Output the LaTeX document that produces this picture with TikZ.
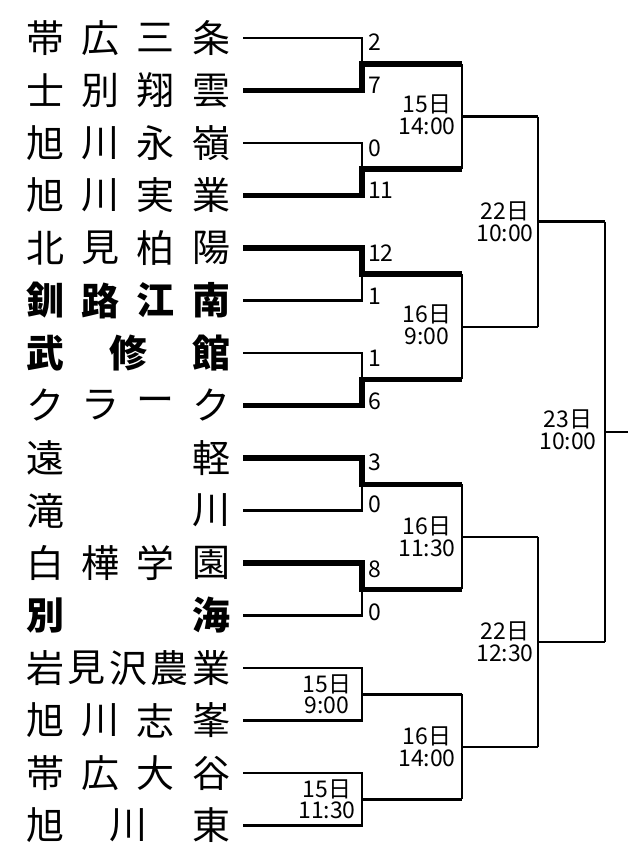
\documentclass[tikz,border=0pt]{standalone}
\usepackage{fontspec}
\setmainfont{Noto Sans CJK JP}
\usetikzlibrary{calc}

\tikzset{
plainline/.style={line width=2.5pt},
winline/.style={line width=5.5pt},
teamchar/.style={inner sep=0pt, font=\fontsize{38}{38}\selectfont},
score/.style={inner sep=0pt, anchor=west, font=\fontsize{23}{23}\selectfont},
gamedate/.style={inner sep=0pt, align=center, font=\fontsize{23}{21.5}\selectfont}
}

\newcommand{\teamname}[4]{%
\foreach \c [count=\k] in {#3}{
\node[teamchar] (n#1-\k) at ({45+(\k-1)*166/(#2-1)},{38+52.5*(#1-1)}) {#4\c};
}
}
\newcommand{\scorecoord}[3]{%

\node[score] (p#1) at ($(e#1)+(6,#3)$) {#2};

}

\begin{document}
\begin{tikzpicture}[x=1pt,y=-1pt]

\useasboundingbox (0,0) rectangle (639,858);

\foreach \i in {1,...,16}{
\coordinate (s\i) at (243,{38+52.5*(\i-1)});
\coordinate (e\i) at (362,{38+52.5*(\i-1)});
}
\foreach \k in {1,...,8}{
\coordinate (a\k) at (362,{38+52.5*(2*\k-1.5)});
\coordinate (b\k) at (462,{38+52.5*(2*\k-1.5)});
}
\foreach \k in {1,...,4}{
\coordinate (c\k) at (462,{38+52.5*(4*\k-2.5)});
\coordinate (d\k) at (538,{38+52.5*(4*\k-2.5)});
}
\foreach \k in {1,2}{
\coordinate (f\k) at (538,{38+52.5*(8*\k-4.5)});
\coordinate (g\k) at (605,{38+52.5*(8*\k-4.5)});
}
\coordinate (h) at (605,{38+52.5*7.5});
\coordinate (z) at (628,{38+52.5*7.5});


\teamname{1}{4}{帯,広,三,条}{}
\teamname{2}{4}{士,別,翔,雲}{}
\teamname{3}{4}{旭,川,永,嶺}{}
\teamname{4}{4}{旭,川,実,業}{}
\teamname{5}{4}{北,見,柏,陽}{}
\teamname{6}{4}{釧,路,江,南}{\bfseries}
\teamname{7}{3}{武,修,館}{\bfseries}
\teamname{8}{4}{ク,ラ,ー,ク}{}
\teamname{9}{2}{遠,軽}{}
\teamname{10}{2}{滝,川}{}
\teamname{11}{4}{白,樺,学,園}{}
\teamname{12}{2}{別,海}{\bfseries}
\teamname{13}{5}{岩,見,沢,農,業}{}
\teamname{14}{4}{旭,川,志,峯}{}
\teamname{15}{4}{帯,広,大,谷}{}
\teamname{16}{3}{旭,川,東}{}


\draw[plainline] (s1) -- (e1) -- (a1);
\draw[winline] (s2) -- (e2) -- (a1) -- (b1);
\draw[plainline] (s3) -- (e3) -- (a2);
\draw[winline] (s4) -- (e4) -- (a2) -- (b2);
\draw[winline] (s5) -- (e5) -- (a3) -- (b3);
\draw[plainline] (s6) -- (e6) -- (a3);
\draw[plainline] (s7) -- (e7) -- (a4);
\draw[winline] (s8) -- (e8) -- (a4) -- (b4);
\draw[winline] (s9) -- (e9) -- (a5) -- (b5);
\draw[plainline] (s10) -- (e10) -- (a5);
\draw[winline] (s11) -- (e11) -- (a6) -- (b6);
\draw[plainline] (s12) -- (e12) -- (a6);
\draw[plainline] (s13) -- (e13) -- (e14) -- (s14);
\draw[plainline] (a7) -- (b7);
\draw[plainline] (s15) -- (e15) -- (e16) -- (s16);
\draw[plainline] (a8) -- (b8);

\draw[plainline] (b1) -- (b2);
\draw[plainline] (b3) -- (b4);
\draw[plainline] (b5) -- (b6);
\draw[plainline] (b7) -- (b8);
\draw[plainline] (c1) -- (d1);
\draw[plainline] (c2) -- (d2);
\draw[plainline] (c3) -- (d3);
\draw[plainline] (c4) -- (d4);

\draw[plainline] (d1) -- (d2);
\draw[plainline] (d3) -- (d4);
\draw[plainline] (f1) -- (g1);
\draw[plainline] (f2) -- (g2);
\draw[plainline] (g1) -- (g2);
\draw[plainline] (h) -- (z);


\scorecoord{1}{2}{4}
\scorecoord{2}{7}{-5}
\scorecoord{3}{0}{5}
\scorecoord{4}{11}{-5}
\scorecoord{5}{12}{5}
\scorecoord{6}{1}{-4}
\scorecoord{7}{1}{5}
\scorecoord{8}{6}{-4}
\scorecoord{9}{3}{4}
\scorecoord{10}{0}{-6}
\scorecoord{11}{8}{6}
\scorecoord{12}{0}{-3}


\node[gamedate] (r1a) at ($(a7)+(-35,0)$) {15日\\9:00};
\node[gamedate] (r1b) at ($(a8)+(-35,0)$) {15日\\11:30};
\node[gamedate] (r2a) at ($(c1)+(-35,-2)$) {15日\\14:00};
\node[gamedate] (r2b) at ($(c2)+(-35,-2)$) {16日\\9:00};
\node[gamedate] (r2c) at ($(c3)+(-35,0)$) {16日\\11:30};
\node[gamedate] (r2d) at ($(c4)+(-35,0)$) {16日\\14:00};
\node[gamedate] (r3a) at ($(f1)+(-33,0)$) {22日\\10:00};
\node[gamedate] (r3b) at ($(f2)+(-33,0)$) {22日\\12:30};
\node[gamedate] (fin) at ($(h)+(-37,-2)$) {23日\\10:00};

\end{tikzpicture}
\end{document}
